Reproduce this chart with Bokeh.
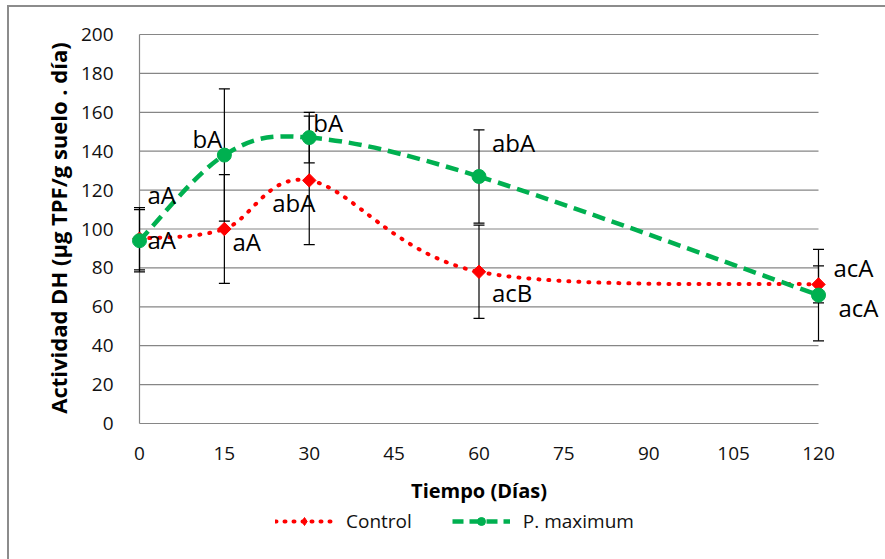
import numpy as np
from bokeh.plotting import figure
from bokeh.layouts import column
from bokeh.models import Range1d, FixedTicker, Legend, LegendItem
from bokeh.core.properties import value
from bokeh.embed import file_html
from bokeh.resources import INLINE

# ---------------- data ----------------
days = [0, 15, 30, 60, 120]
control = [95, 100, 125, 78, 71.5]
control_err = [16, 28, 33, 24, 9.5]
pmax = [94, 138, 147, 127, 66]
pmax_err = [16, 34, 13, 24, 23.5]
control_letters = ["aA", "aA", "abA", "acB", "acA"]
pmax_letters = ["aA", "bA", "bA", "abA", "acA"]
x_ticks = [0, 15, 30, 45, 60, 75, 90, 105, 120]
y_ticks = [0, 20, 40, 60, 80, 100, 120, 140, 160, 180, 200]
x_title = "Tiempo (Días)"
y_title = "Actividad DH (µg TPF/g suelo . día)"
series_names = ["Control", "P. maximum"]

# label placement (baseline value, pixel x offset)
control_label_y = [94.5, 93.5, 113.5, 67.5, 80]
control_label_dx = [8, 8, -37, 13, 15]
pmax_label_y = [117.5, 146.5, 154.5, 144.5, 59.5]
pmax_label_dx = [8, -32, 4, 13, 20]

# ---------------- geometry (page pixels) ----------------
W, H = 885, 559
OX, OY = 9, 7              # content origin inside the chart-area border
X0PX, X1PX = 139, 818      # page pixel of x=0 and x=120
Y0PX, Y1PX = 423, 34       # page pixel of y=0 and y=200
FL, FR, FT, FB = 129, 885, 28, 427   # plot frame
MAIN_BOTTOM = 470          # page y where the main figure ends
sx = (X1PX - X0PX) / (x_ticks[-1] - x_ticks[0])
sy = (Y0PX - Y1PX) / (y_ticks[-1] - y_ticks[0])
x_range = Range1d(x_ticks[0] - (X0PX - FL) / sx, x_ticks[-1] + (FR - X1PX) / sx)
y_range = Range1d(y_ticks[0] - (FB - Y0PX) / sy, y_ticks[-1] + (Y1PX - FT) / sy)

main_w = W - OX
main_h = MAIN_BOTTOM - OY
p = figure(width=main_w, height=main_h, x_range=x_range, y_range=y_range,
           output_backend="svg", toolbar_location=None,
           min_border_left=FL - OX, min_border_right=W - FR,
           min_border_top=FT - OY, min_border_bottom=MAIN_BOTTOM - FB)
p.outline_line_color = None
p.xgrid.grid_line_color = None
p.ygrid.grid_line_color = None

GRID = "#868686"
FONT = "Open Sans"
RED = "#FF0000"
GREEN = "#00B050"

# gridlines and axis lines
gy = y_ticks[1:]
p.segment(x0=[x_ticks[0]] * len(gy), y0=gy, x1=[x_ticks[-1]] * len(gy), y1=gy,
          line_color=GRID, line_width=1.2)
p.segment(x0=[x_ticks[0], x_ticks[0]], y0=[y_ticks[0], y_ticks[0]],
          x1=[x_ticks[-1], x_ticks[0]], y1=[y_ticks[0], y_ticks[-1]],
          line_color=GRID, line_width=1.2)

# axes
for ax in (p.xaxis[0], p.yaxis[0]):
    ax.axis_line_color = None
    ax.major_tick_line_color = None
    ax.minor_tick_line_color = None
    ax.major_label_text_font = FONT
    ax.major_label_text_font_size = "19px"
    ax.major_label_text_color = "#111111"
    ax.axis_label_text_font = FONT
    ax.axis_label_text_font_style = "bold"
    ax.axis_label_text_color = "#000000"
p.xaxis.ticker = FixedTicker(ticks=x_ticks)
p.yaxis.ticker = FixedTicker(ticks=y_ticks)
p.yaxis.axis_label = y_title
p.yaxis.axis_label_text_font_size = "22px"
p.xaxis.major_label_standoff = 13
p.yaxis.major_label_standoff = 10
p.yaxis.axis_label_standoff = 5


# smooth (Excel-like) curves as cubic Bezier segments
def bezier_segments(xs, ys):
    pts = np.column_stack([xs, ys]).astype(float)
    n = len(pts)
    out = {k: [] for k in ("x0", "y0", "x1", "y1", "cx0", "cy0", "cx1", "cy1")}
    for i in range(n - 1):
        p0 = pts[i - 1] if i > 0 else pts[i]
        p1, p2 = pts[i], pts[i + 1]
        p3 = pts[i + 2] if i + 2 < n else pts[i + 1]
        c1 = p1 + (p2 - p0) / 6.0
        c2 = p2 - (p3 - p1) / 6.0
        out["x0"].append(float(p1[0])); out["y0"].append(float(p1[1]))
        out["x1"].append(float(p2[0])); out["y1"].append(float(p2[1]))
        out["cx0"].append(float(c1[0])); out["cy0"].append(float(c1[1]))
        out["cx1"].append(float(c2[0])); out["cy1"].append(float(c2[1]))
    return out


# error bars
def error_bars(ys, es):
    lo = [y - e for y, e in zip(ys, es)]
    hi = [y + e for y, e in zip(ys, es)]
    p.segment(x0=days, y0=lo, x1=days, y1=hi, line_color="black", line_width=1.2)
    p.scatter(x=days + days, y=lo + hi, marker="dash", size=11,
              line_color="black", line_width=1.2)

error_bars(control, control_err)
error_bars(pmax, pmax_err)

CTRL_LINE = dict(line_color=RED, line_width=4, line_dash="1 9", line_cap="round")
PMAX_LINE = dict(line_color=GREEN, line_width=4.5, line_dash="13 7")
CTRL_MARK = dict(marker="square", angle=float(np.pi / 4), size=9.5,
                 fill_color=RED, line_color=RED)
PMAX_MARK = dict(marker="circle", size=14, fill_color=GREEN, line_color=GREEN)

p.bezier(**CTRL_LINE, **bezier_segments(days, control))
p.scatter(x=days, y=control, **CTRL_MARK)
p.bezier(**PMAX_LINE, **bezier_segments(days, pmax))
p.scatter(x=days, y=pmax, **PMAX_MARK)

# significance letters
for ys, txt, dx in ((control_label_y, control_letters, control_label_dx),
                    (pmax_label_y, pmax_letters, pmax_label_dx)):
    p.text(x=days, y=ys, text=txt, x_offset=dx,
           text_font=value(FONT), text_font_size="24px", text_color="black",
           text_baseline="alphabetic", text_align="left")

# ---------------- lower strip: x-axis title + legend ----------------
strip_h = H - MAIN_BOTTOM
q = figure(width=main_w, height=strip_h, x_range=p.x_range,
           y_range=Range1d(0, strip_h), x_axis_type=None, y_axis_type=None,
           output_backend="svg", toolbar_location=None,
           min_border_left=FL - OX, min_border_right=W - FR,
           min_border_top=0, min_border_bottom=0)
q.outline_line_color = None

TITLE_Y = 490
q.text(x=[(x_ticks[0] + x_ticks[-1]) / 2], y=[H - TITLE_Y], text=[x_title],
       text_font=value(FONT), text_font_style="bold", text_font_size="20px",
       text_color="black", text_align="center", text_baseline="middle")

nan2 = [float("nan")] * 2
lc = q.line(x=days[:2], y=nan2, line_color=RED, line_width=4, line_dash="1 8",
            line_cap="round")
mc = q.scatter(x=days[:2], y=nan2, marker="diamond", size=14,
               fill_color=RED, line_color=RED)
lp = q.line(x=days[:2], y=nan2, line_color=GREEN, line_width=4.5, line_dash="11 6")
mp = q.scatter(x=days[:2], y=nan2, **PMAX_MARK)

LEG_LEFT, LEG_BOTTOM = 275, 534
legend = Legend(items=[LegendItem(label=series_names[0], renderers=[lc, mc]),
                       LegendItem(label=series_names[1], renderers=[lp, mp])],
                orientation="horizontal",
                location=(LEG_LEFT - FL, H - LEG_BOTTOM),
                label_text_font=FONT, label_text_font_size="19px",
                label_text_color="#111111", label_standoff=13,
                glyph_width=58, glyph_height=20, spacing=40,
                border_line_color=None, background_fill_alpha=0,
                margin=0, padding=2)
q.add_layout(legend, "center")

layout = column(p, q, spacing=0, margin=(OY - 2, 0, 0, OX - 2),
                styles={"border-top": "2px solid #8c8c8c",
                        "border-left": "2px solid #8c8c8c"})

open("out.html", "w").write(file_html(layout, INLINE))
